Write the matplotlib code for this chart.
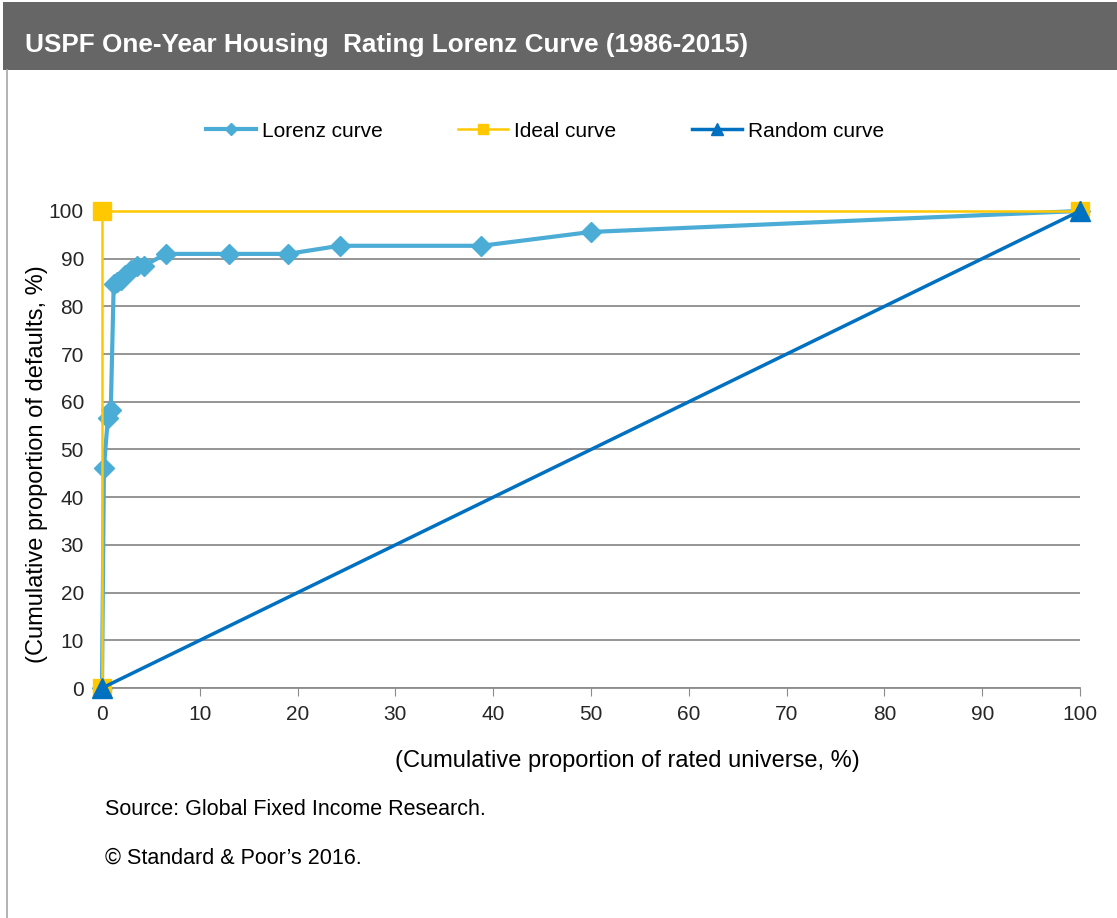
import matplotlib.pyplot as plt
from matplotlib.patches import Rectangle
from matplotlib.lines import Line2D

plt.rcParams['font.family'] = ['Liberation Sans', 'DejaVu Sans']

# cumulative proportion of rated universe (%) vs cumulative proportion of defaults (%)
lorenz_x = [0, 0.2, 0.6, 0.9, 1.2, 1.5, 1.9, 2.4, 3.0, 3.6, 4.3, 6.5, 13.0, 19.0, 24.3, 38.8, 50.0, 100]
lorenz_y = [0, 46.2, 56.6, 58.3, 84.7, 85.2, 85.6, 86.5, 87.6, 88.5, 88.5, 91.0, 91.0, 91.0, 92.7, 92.7, 95.6, 100]
ideal_x = [0, 0, 100]
ideal_y = [0, 100, 100]
random_x = [0, 100]
random_y = [0, 100]

fig = plt.figure(figsize=(11.17, 9.18), dpi=100)

# header bar and left frame line
fig.patches.append(Rectangle((0.003, 0.924), 0.997, 0.074, transform=fig.transFigure,
                             facecolor='#666666', edgecolor='none', zorder=0))
fig.lines.append(Line2D([0.0065, 0.0065], [0, 0.924], transform=fig.transFigure,
                        color='#a6a6a6', linewidth=1.2))
fig.text(0.022, 0.951, 'USPF One-Year Housing  Rating Lorenz Curve (1986-2015)',
         color='white', fontsize=18.8, fontweight='bold', va='center', ha='left')

ax = fig.add_axes([0.0913, 0.2505, 0.8756, 0.5197])

ax.plot(lorenz_x, lorenz_y, color='#4BACD6', linewidth=3, marker='D', markersize=10,
        label='Lorenz curve', zorder=2, clip_on=False)
ax.plot(ideal_x, ideal_y, color='#FFC800', linewidth=1.8, marker='s', markersize=13,
        label='Ideal curve', zorder=3, clip_on=False)
ax.plot(random_x, random_y, color='#0070C0', linewidth=2.5, marker='^', markersize=14,
        label='Random curve', zorder=4, clip_on=False)

ax.set_xlim(0, 100)
ax.set_ylim(0, 100)
ax.set_xticks(range(0, 101, 10))
ax.set_yticks(range(0, 101, 10))
ax.yaxis.grid(True, color='#8c8c8c', linewidth=1.3)
ax.set_axisbelow(True)
for s in ['top', 'right', 'left']:
    ax.spines[s].set_visible(False)
ax.spines['bottom'].set_color('#8c8c8c')
ax.spines['bottom'].set_linewidth(1.3)
ax.tick_params(axis='x', direction='out', length=6, color='#8c8c8c', labelsize=15, pad=6)
ax.tick_params(axis='y', length=0, labelsize=15, pad=13)
for lbl in ax.get_xticklabels() + ax.get_yticklabels():
    lbl.set_color('#262626')

ax.set_xlabel('(Cumulative proportion of rated universe, %)', fontsize=17, va='center')
ax.set_ylabel('(Cumulative proportion of defaults, %)', fontsize=17, va='center')
ax.xaxis.set_label_coords(0.537, -0.153)
ax.yaxis.set_label_coords(-0.066, 0.47)

fig.legend(loc='center', bbox_to_anchor=(0.488, 0.857), ncol=3, frameon=False,
           fontsize=15, handlelength=2.4, columnspacing=3.6, markerscale=0.6,
           handletextpad=0.3)

fig.text(0.094, 0.118, 'Source: Global Fixed Income Research.', fontsize=15.5, va='center')
fig.text(0.094, 0.065, '\u00a9 Standard & Poor\u2019s 2016.', fontsize=15.5, va='center')

fig.savefig('out.png', dpi=100, facecolor='white')
